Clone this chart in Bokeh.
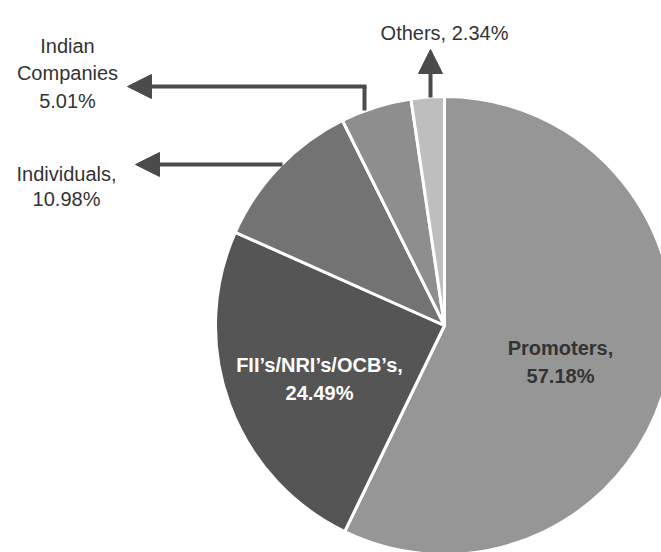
import math
from bokeh.plotting import figure
from bokeh.models import Range1d, Arrow, NormalHead, ColumnDataSource
from bokeh.core.properties import value
from bokeh.embed import file_html
from bokeh.resources import INLINE

# ---- data ----
categories = ["Promoters", "FII\u2019s/NRI\u2019s/OCB\u2019s", "Individuals", "Indian Companies", "Others"]
shares = [57.18, 24.49, 10.98, 5.01, 2.34]
slice_colors = ["#969696", "#555555", "#737373", "#8e8e8e", "#bebebe"]
label_lines = [
    ["Promoters,", "57.18%"],
    ["FII\u2019s/NRI\u2019s/OCB\u2019s,", "24.49%"],
    ["Individuals,", "10.98%"],
    ["Indian", "Companies", "5.01%"],
    ["Others, 2.34%"],
]

W, H = 661, 552
FONT = "Liberation Sans"
ARROW = "#4b4b4b"

p = figure(width=W, height=H, x_range=Range1d(0, W), y_range=Range1d(0, H),
           output_backend="svg", toolbar_location=None, min_border=0)
p.axis.visible = False
p.grid.visible = False
p.outline_line_color = None
p.background_fill_color = "white"
p.border_fill_color = "white"

def Y(py):
    return H - py

# pie
cx, cy, r = 444, Y(325), 229
total = sum(shares)
starts, ends = [], []
acc = 0.0
for s in shares:
    starts.append(math.pi / 2 - 2 * math.pi * acc / total)
    acc += s
    ends.append(math.pi / 2 - 2 * math.pi * acc / total)
src = ColumnDataSource(dict(cat=categories, share=shares, start=starts, end=ends, color=slice_colors))
p.wedge(x=cx, y=cy, radius=r, start_angle="start", end_angle="end", direction="clock",
        fill_color="color", line_color="white", line_width=3, source=src)

# arrows
def head():
    return NormalHead(size=24, fill_color=ARROW, line_color=ARROW, line_width=1)

# Others (up)
p.add_layout(Arrow(end=head(), x_start=430, y_start=Y(97), x_end=430, y_end=Y(49),
                   line_color=ARROW, line_width=4))
# Indian Companies (elbow)
p.line([364, 364], [Y(110), Y(86)], line_color=ARROW, line_width=4)
p.add_layout(Arrow(end=head(), x_start=366, y_start=Y(86), x_end=127, y_end=Y(86),
                   line_color=ARROW, line_width=4))
# Individuals
p.add_layout(Arrow(end=head(), x_start=282, y_start=Y(164), x_end=135, y_end=Y(164),
                   line_color=ARROW, line_width=4))

# labels
def lines(x, baselines, texts, color, size, style, font=FONT):
    p.text(x=[x] * len(texts), y=[Y(b) for b in baselines], text=texts,
           text_align="center", text_baseline="alphabetic",
           text_font=value(font), text_font_size=f"{size}px",
           text_font_style=style, text_color=color)

lines(67, [45, 72, 100], label_lines[3], "#333333", 20, "normal")
lines(66, [173, 198], label_lines[2], "#333333", 20, "normal")
lines(444, [32], label_lines[4], "#333333", 20, "normal")
lines(560, [347, 375], label_lines[0], "#333333", 20, "bold")
lines(319, [364, 392], label_lines[1], "white", 20, "bold")

open("out.html", "w").write(file_html(p, INLINE))
